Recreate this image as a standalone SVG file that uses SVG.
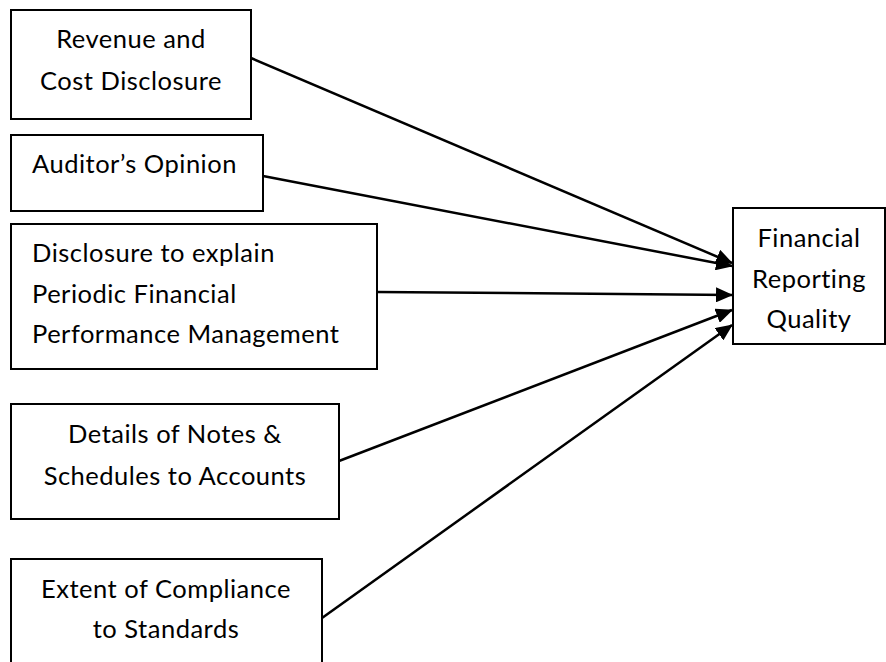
<svg xmlns="http://www.w3.org/2000/svg" width="886" height="662" viewBox="0 0 886 662">
<style>
.box{fill:#fff;stroke:#000;stroke-width:2}
.t{font-family:Lato,"Liberation Sans",sans-serif;font-size:25.5px;letter-spacing:0.5px;fill:#000}
.c{text-anchor:middle}
.e{stroke:#000;stroke-width:2.5;fill:none;marker-end:url(#ah)}
</style>
<defs>
<marker id="ah" markerUnits="userSpaceOnUse" markerWidth="17" markerHeight="15" refX="16" refY="7.5" orient="auto">
<path d="M0,0 L17,7.5 L0,15 Z" fill="#000"/>
</marker>
</defs>
<rect width="886" height="662" fill="#fff"/>
<g id="connectors">
<line class="e" x1="251" y1="58" x2="732" y2="263"/>
<line class="e" x1="263" y1="176" x2="732" y2="266"/>
<line class="e" x1="377" y1="292" x2="732" y2="295"/>
<line class="e" x1="339" y1="461" x2="732" y2="310"/>
<line class="e" x1="322" y1="618" x2="732" y2="325"/>
</g>
<g id="n1">
<rect class="box" x="11" y="10" width="240" height="109"/>
<text class="t c" x="131" y="48">Revenue and</text>
<text class="t c" x="131" y="90">Cost Disclosure</text>
</g>
<g id="n2">
<rect class="box" x="11" y="135" width="252" height="76"/>
<text class="t" x="32" y="173">Auditor’s Opinion</text>
</g>
<g id="n3">
<rect class="box" x="11" y="224" width="366" height="145"/>
<text class="t" x="32" y="262">Disclosure to explain</text>
<text class="t" x="32" y="303">Periodic Financial</text>
<text class="t" x="32" y="343">Performance Management</text>
</g>
<g id="n4">
<rect class="box" x="11" y="404" width="328" height="115"/>
<text class="t c" x="175" y="443">Details of Notes &amp;</text>
<text class="t c" x="175" y="485">Schedules to Accounts</text>
</g>
<g id="n5">
<rect class="box" x="11" y="559" width="311" height="110"/>
<text class="t c" x="166" y="598">Extent of Compliance</text>
<text class="t c" x="166" y="638">to Standards</text>
</g>
<g id="n6">
<rect class="box" x="733" y="208" width="152" height="136"/>
<text class="t c" x="809" y="247">Financial</text>
<text class="t c" x="809" y="288">Reporting</text>
<text class="t c" x="809" y="328">Quality</text>
</g>
</svg>
